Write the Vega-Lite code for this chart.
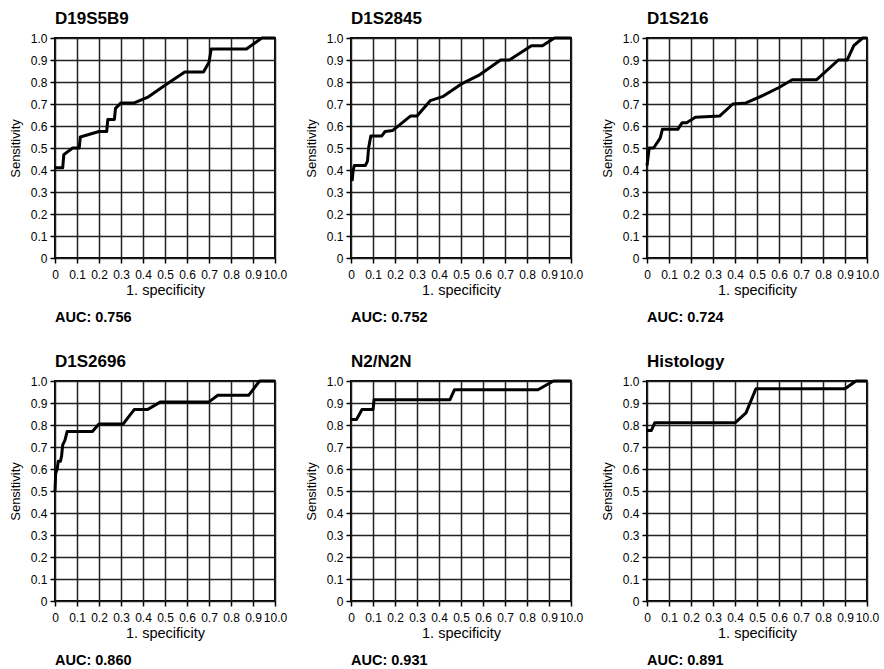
{
  "$schema": "https://vega.github.io/schema/vega-lite/v6.json",
  "padding": {"left": 8, "top": 9, "right": 5, "bottom": 5},
  "background": "white",
  "data": {"values": [
    {"p":"D19S5B9","x":0,"y":0.41},{"p":"D19S5B9","x":0.035,"y":0.41},{"p":"D19S5B9","x":0.04,"y":0.47},{"p":"D19S5B9","x":0.08,"y":0.5},{"p":"D19S5B9","x":0.11,"y":0.5},{"p":"D19S5B9","x":0.115,"y":0.55},{"p":"D19S5B9","x":0.2,"y":0.575},{"p":"D19S5B9","x":0.235,"y":0.575},{"p":"D19S5B9","x":0.24,"y":0.63},{"p":"D19S5B9","x":0.27,"y":0.63},{"p":"D19S5B9","x":0.275,"y":0.68},{"p":"D19S5B9","x":0.3,"y":0.705},{"p":"D19S5B9","x":0.36,"y":0.705},{"p":"D19S5B9","x":0.42,"y":0.73},{"p":"D19S5B9","x":0.5,"y":0.785},{"p":"D19S5B9","x":0.59,"y":0.845},{"p":"D19S5B9","x":0.675,"y":0.845},{"p":"D19S5B9","x":0.7,"y":0.89},{"p":"D19S5B9","x":0.71,"y":0.95},{"p":"D19S5B9","x":0.87,"y":0.95},{"p":"D19S5B9","x":0.94,"y":1.0},{"p":"D19S5B9","x":1.0,"y":1.0},
    {"p":"D1S2845","x":0.005,"y":0.35},{"p":"D1S2845","x":0.01,"y":0.4},{"p":"D1S2845","x":0.015,"y":0.42},{"p":"D1S2845","x":0.065,"y":0.42},{"p":"D1S2845","x":0.075,"y":0.44},{"p":"D1S2845","x":0.08,"y":0.5},{"p":"D1S2845","x":0.09,"y":0.555},{"p":"D1S2845","x":0.14,"y":0.555},{"p":"D1S2845","x":0.155,"y":0.575},{"p":"D1S2845","x":0.19,"y":0.58},{"p":"D1S2845","x":0.27,"y":0.645},{"p":"D1S2845","x":0.3,"y":0.645},{"p":"D1S2845","x":0.36,"y":0.715},{"p":"D1S2845","x":0.42,"y":0.735},{"p":"D1S2845","x":0.5,"y":0.79},{"p":"D1S2845","x":0.58,"y":0.83},{"p":"D1S2845","x":0.68,"y":0.9},{"p":"D1S2845","x":0.72,"y":0.9},{"p":"D1S2845","x":0.82,"y":0.965},{"p":"D1S2845","x":0.87,"y":0.965},{"p":"D1S2845","x":0.925,"y":1.0},{"p":"D1S2845","x":1.0,"y":1.0},
    {"p":"D1S216","x":0,"y":0.42},{"p":"D1S216","x":0.01,"y":0.5},{"p":"D1S216","x":0.03,"y":0.5},{"p":"D1S216","x":0.06,"y":0.545},{"p":"D1S216","x":0.07,"y":0.585},{"p":"D1S216","x":0.14,"y":0.585},{"p":"D1S216","x":0.16,"y":0.615},{"p":"D1S216","x":0.18,"y":0.615},{"p":"D1S216","x":0.22,"y":0.64},{"p":"D1S216","x":0.33,"y":0.645},{"p":"D1S216","x":0.39,"y":0.7},{"p":"D1S216","x":0.45,"y":0.705},{"p":"D1S216","x":0.53,"y":0.74},{"p":"D1S216","x":0.6,"y":0.775},{"p":"D1S216","x":0.66,"y":0.81},{"p":"D1S216","x":0.77,"y":0.81},{"p":"D1S216","x":0.87,"y":0.9},{"p":"D1S216","x":0.91,"y":0.9},{"p":"D1S216","x":0.94,"y":0.965},{"p":"D1S216","x":0.98,"y":1.0},{"p":"D1S216","x":1.0,"y":1.0},
    {"p":"D1S2696","x":0,"y":0.5},{"p":"D1S2696","x":0.003,"y":0.58},{"p":"D1S2696","x":0.01,"y":0.6},{"p":"D1S2696","x":0.015,"y":0.635},{"p":"D1S2696","x":0.025,"y":0.635},{"p":"D1S2696","x":0.03,"y":0.66},{"p":"D1S2696","x":0.035,"y":0.71},{"p":"D1S2696","x":0.045,"y":0.73},{"p":"D1S2696","x":0.055,"y":0.77},{"p":"D1S2696","x":0.17,"y":0.77},{"p":"D1S2696","x":0.2,"y":0.805},{"p":"D1S2696","x":0.31,"y":0.805},{"p":"D1S2696","x":0.36,"y":0.87},{"p":"D1S2696","x":0.42,"y":0.87},{"p":"D1S2696","x":0.48,"y":0.905},{"p":"D1S2696","x":0.7,"y":0.905},{"p":"D1S2696","x":0.74,"y":0.935},{"p":"D1S2696","x":0.88,"y":0.935},{"p":"D1S2696","x":0.93,"y":1.0},{"p":"D1S2696","x":1.0,"y":1.0},
    {"p":"N2/N2N","x":0,"y":0.825},{"p":"N2/N2N","x":0.025,"y":0.825},{"p":"N2/N2N","x":0.05,"y":0.87},{"p":"N2/N2N","x":0.1,"y":0.87},{"p":"N2/N2N","x":0.105,"y":0.915},{"p":"N2/N2N","x":0.45,"y":0.915},{"p":"N2/N2N","x":0.47,"y":0.96},{"p":"N2/N2N","x":0.85,"y":0.96},{"p":"N2/N2N","x":0.92,"y":1.0},{"p":"N2/N2N","x":1.0,"y":1.0},
    {"p":"Histology","x":0,"y":0.775},{"p":"Histology","x":0.02,"y":0.775},{"p":"Histology","x":0.035,"y":0.81},{"p":"Histology","x":0.4,"y":0.81},{"p":"Histology","x":0.45,"y":0.855},{"p":"Histology","x":0.495,"y":0.965},{"p":"Histology","x":0.9,"y":0.965},{"p":"Histology","x":0.95,"y":1.0},{"p":"Histology","x":1.0,"y":1.0},
    {"p":"D19S5B9","auc":"AUC: 0.756"},{"p":"D1S2845","auc":"AUC: 0.752"},{"p":"D1S216","auc":"AUC: 0.724"},{"p":"D1S2696","auc":"AUC: 0.860"},{"p":"N2/N2N","auc":"AUC: 0.931"},{"p":"Histology","auc":"AUC: 0.891"}
  ]},
  "columns": 3,
  "bounds": "flush",
  "spacing": {"column": 76, "row": 123},
  "facet": {
    "field": "p", "type": "nominal",
    "sort": ["D19S5B9","D1S2845","D1S216","D1S2696","N2/N2N","Histology"],
    "header": {"title": null, "labelFontSize": 17, "labelFontWeight": "bold", "labelFont": "Liberation Sans", "labelColor": "black", "labelAnchor": "start", "labelAlign": "left", "labelPadding": 4}
  },
  "resolve": {"axis": {"x": "independent", "y": "independent"}},
  "spec": {
    "width": 220, "height": 220,
    "layer": [
      {
        "transform": [{"filter": "isValid(datum.x)"}],
        "mark": {"type": "line", "color": "black", "strokeWidth": 3, "strokeJoin": "round"},
        "encoding": {
          "x": {"field": "x", "type": "quantitative", "scale": {"domain": [0, 1], "nice": false, "zero": false},
            "axis": {"title": "1. specificity", "titleFontSize": 14.5, "titlePadding": 3, "values": [0,0.1,0.2,0.3,0.4,0.5,0.6,0.7,0.8,0.9,1], "labelPadding": 6, "labelExpr": "datum.value == 0 ? '0' : datum.value == 1 ? '10.0' : format(datum.value, '.1f')"}},
          "y": {"field": "y", "type": "quantitative", "scale": {"domain": [0, 1], "nice": false, "zero": false},
            "axis": {"title": "Sensitivity", "titleFontSize": 13, "titlePadding": 8, "values": [0,0.1,0.2,0.3,0.4,0.5,0.6,0.7,0.8,0.9,1], "labelExpr": "datum.value == 0 ? '0' : format(datum.value, '.1f')"}}
        }
      },
      {
        "transform": [{"filter": "isValid(datum.auc)"}],
        "mark": {"type": "text", "align": "left", "baseline": "middle", "fontSize": 14.5, "fontWeight": "bold", "font": "Liberation Sans", "color": "black"},
        "encoding": {
          "x": {"datum": 0, "type": "quantitative",
            "axis": {"title": "1. specificity", "titleFontSize": 14.5, "titlePadding": 3, "values": [0,0.1,0.2,0.3,0.4,0.5,0.6,0.7,0.8,0.9,1], "labelPadding": 6, "labelExpr": "datum.value == 0 ? '0' : datum.value == 1 ? '10.0' : format(datum.value, '.1f')"}},
          "y": {"datum": -0.272, "type": "quantitative",
            "axis": {"title": "Sensitivity", "titleFontSize": 13, "titlePadding": 8, "values": [0,0.1,0.2,0.3,0.4,0.5,0.6,0.7,0.8,0.9,1], "labelExpr": "datum.value == 0 ? '0' : format(datum.value, '.1f')"}},
          "text": {"field": "auc"}
        }
      }
    ]
  },
  "config": {
    "view": {"stroke": "black", "strokeWidth": 2},
    "axis": {
      "grid": true, "gridColor": "#222", "gridWidth": 1.5, "gridOpacity": 1,
      "domain": false, "ticks": true, "tickColor": "black", "tickSize": 5, "tickWidth": 1.5,
      "labelFont": "Liberation Sans", "labelFontSize": 12, "labelColor": "black",
      "labelOverlap": false, "labelFlush": false, "labelPadding": 3,
      "titleFont": "Liberation Sans", "titleFontSize": 13, "titleFontWeight": "normal", "titleColor": "black", "titlePadding": 4
    }
  }
}
